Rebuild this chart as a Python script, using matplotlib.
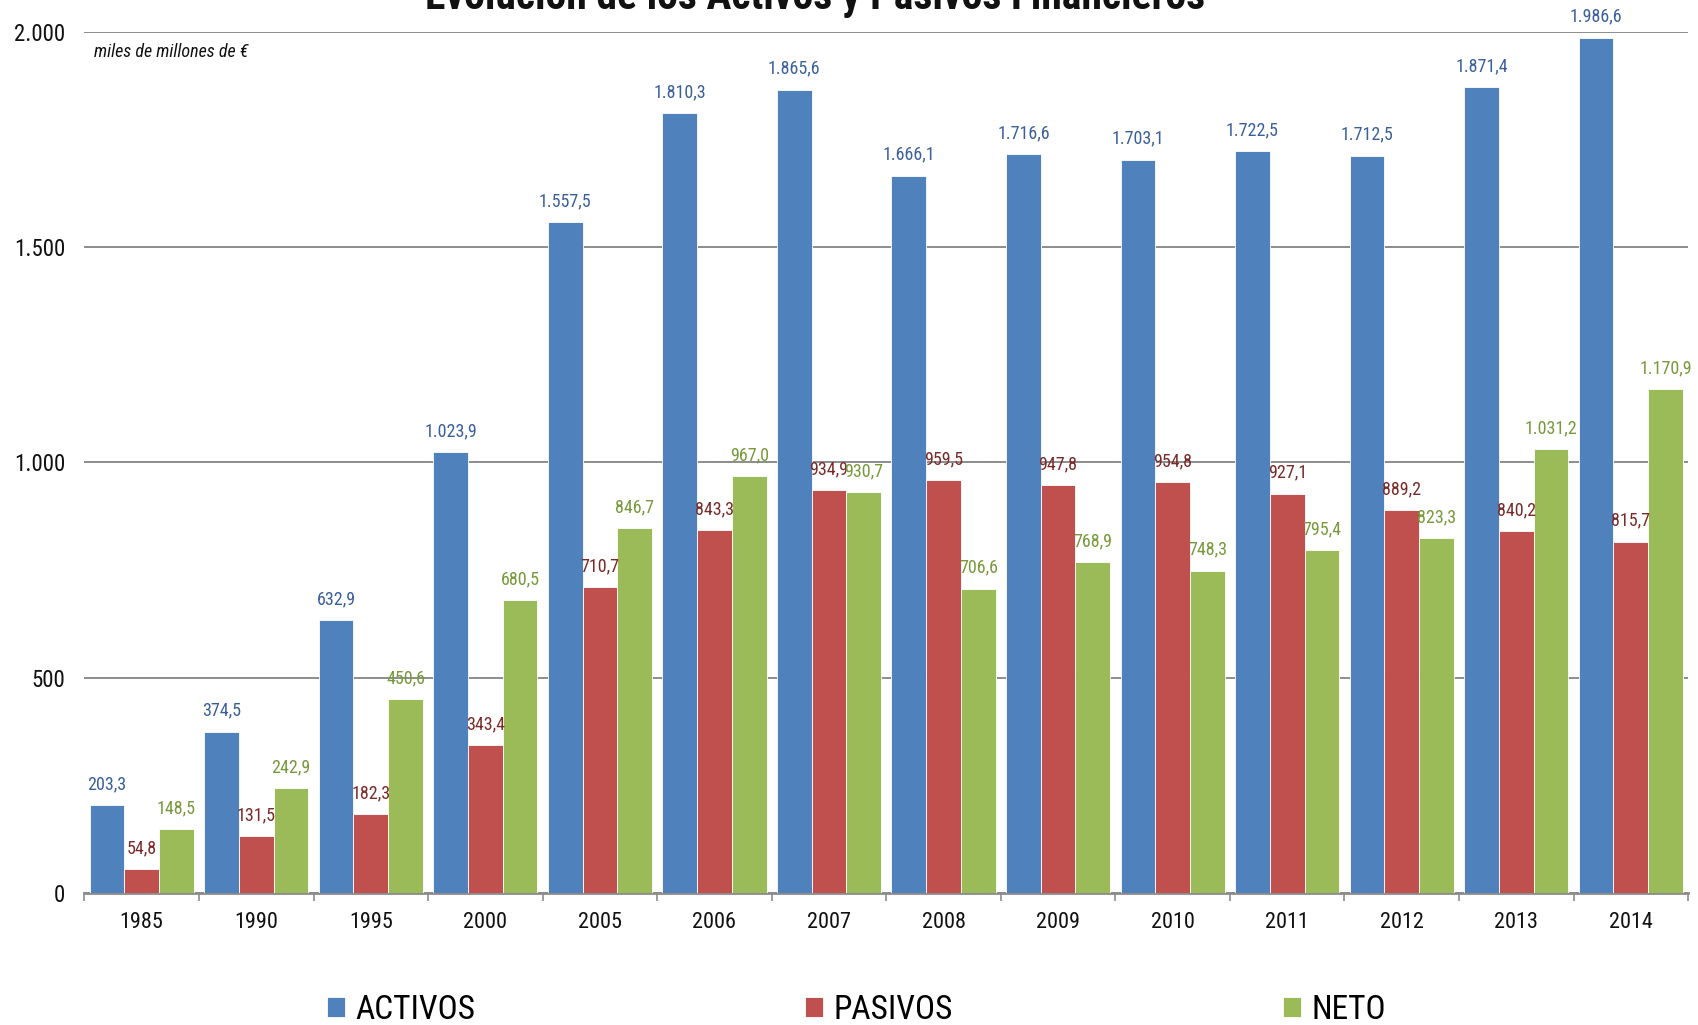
import matplotlib
matplotlib.use("Agg")
import matplotlib.pyplot as plt
import numpy as np

years = ["1985", "1990", "1995", "2000", "2005", "2006", "2007", "2008",
         "2009", "2010", "2011", "2012", "2013", "2014"]
activos = [203.3, 374.5, 632.9, 1023.9, 1557.5, 1810.3, 1865.6, 1666.1,
           1716.6, 1703.1, 1722.5, 1712.5, 1871.4, 1986.6]
pasivos = [54.8, 131.5, 182.3, 343.4, 710.7, 843.3, 934.9, 959.5,
           947.8, 954.8, 927.1, 889.2, 840.2, 815.7]
neto = [148.5, 242.9, 450.6, 680.5, 846.7, 967.0, 930.7, 706.6,
        768.9, 748.3, 795.4, 823.3, 1031.2, 1170.9]
series_names = ["ACTIVOS", "PASIVOS", "NETO"]
yticks = [0, 500, 1000, 1500, 2000]
ytick_labels = ["0", "500", "1.000", "1.500", "2.000"]

FONT = ["Roboto Condensed", "Archivo Narrow", "Barlow Condensed", "DejaVu Sans"]
plt.rcParams["font.family"] = FONT

colors = ["#4F81BD", "#C0504D", "#9BBB59"]
label_colors = ["#3A5F9A", "#7A2A28", "#77993A"]

def fmt(v):
    s = f"{v:,.1f}"
    return s.replace(",", "X").replace(".", ",").replace("X", ".")

fig = plt.figure(figsize=(16.99, 10.25), dpi=100)
ax = fig.add_axes([0.0497, 0.129, 0.9439, 0.840])

x = np.arange(len(years))
w = 0.303
data = [activos, pasivos, neto]
for i, (vals, c, lc, name) in enumerate(zip(data, colors, label_colors, series_names)):
    pos = x + (i - 1) * w
    ax.bar(pos, vals, width=w, color=c, edgecolor="white", linewidth=0.6,
           label=name, zorder=3)
    for xp, v in zip(pos, vals):
        ax.annotate(fmt(v), (xp, v), xytext=(0, 8.5), textcoords="offset points",
                    ha="center", va="bottom", fontsize=13, color=lc, zorder=4)

ax.set_xlim(-0.5, len(years) - 0.5)
ax.set_ylim(0, 2000)
ax.set_yticks(yticks)
ax.set_yticklabels(ytick_labels)
ax.set_xticks(x)
ax.set_xticklabels(years)
ax.set_xticks(np.arange(-0.5, len(years)), minor=True)
ax.tick_params(axis="y", length=0, pad=14, labelsize=16.5, labelcolor="#111111")
ax.tick_params(axis="x", which="major", length=0, pad=14, labelsize=16,
               labelcolor="#111111")
ax.tick_params(axis="x", which="minor", length=6, width=1.2, color="#8c8c8c")
ax.yaxis.grid(True, color="#8c8c8c", linewidth=1.4, zorder=0)
ax.set_axisbelow(True)
for s in ["top", "right", "left"]:
    ax.spines[s].set_visible(False)
ax.spines["bottom"].set_color("#8c8c8c")
ax.spines["bottom"].set_linewidth(2)

ax.text(0.006, 0.977, "miles de millones de €", transform=ax.transAxes,
        fontsize=13, style="italic", color="#111111", ha="left", va="center")

fig.text(0.48, 0.991, "Evolución de los Activos y Pasivos Financieros",
         ha="center", va="baseline", fontsize=30, fontweight="bold",
         color="#111111")

fig.legend(loc="center", bbox_to_anchor=(0.504, 0.0146), ncol=3, frameon=False,
           fontsize=24, handlelength=0.55, handleheight=0.55, handletextpad=0.3,
           columnspacing=9.9)

fig.savefig("out.png", dpi=100)
